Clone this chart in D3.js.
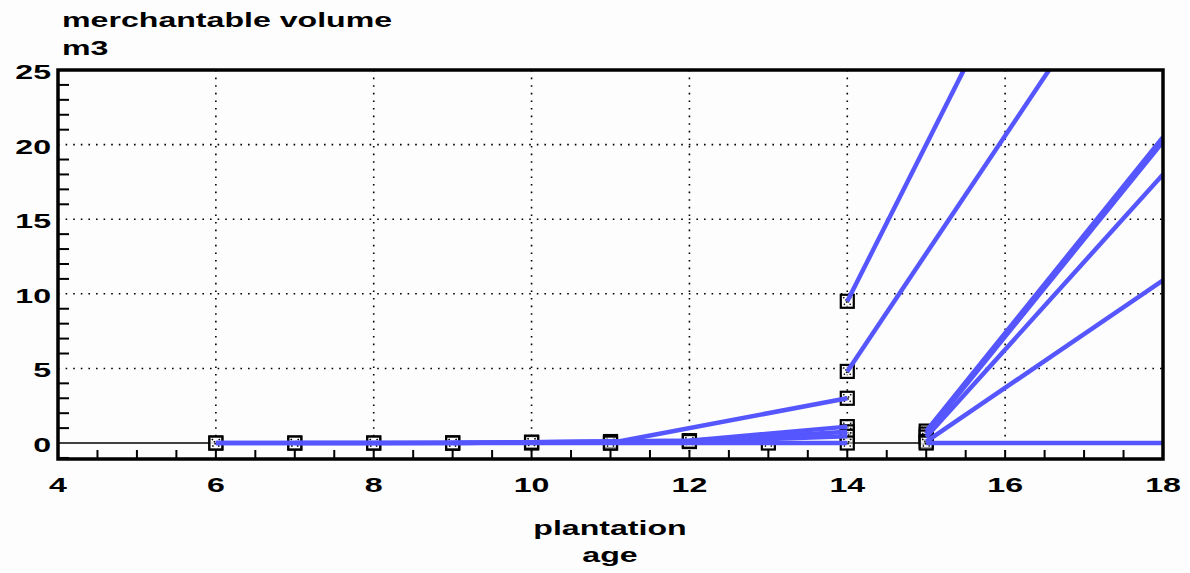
<!DOCTYPE html>
<html>
  <head>
    <title>merchantable volume</title>
    <script src="https://d3js.org/d3.v7.min.js"></script>
    <style>
      body { margin: 0; background: #fdfdfd; }
      text { font-family: "Liberation Sans", Arial, sans-serif; font-weight: bold; fill: #000; }
    </style>
  </head>
  <body>
    <div id="chart"></div>
    <script>
      // data: [plantation age, merchantable volume m3]
      var stand1 = [[6, 0], [7, 0], [8, 0], [9, 0], [10, 0], [11, 0], [14, 3.0]];
      var stand2 = [[6, 0], [8, 0], [10, 0.05], [12, 0.15], [14, 1.1]];
      var stand3 = [[7, 0], [9, 0], [11, 0.1], [12, 0.15], [14, 0.75]];
      var stand4 = [[9, 0], [10, 0.05], [12, 0.1], [14, 0.45]];
      var stand5 = [[11, 0], [13, 0], [14, 0]];
      var stand6 = [[14, 9.5], [18, 51.5]];
      var stand7 = [[14, 4.8], [18, 36.4]];
      var stand8 = [[15, 0.8], [18, 20.5]];
      var stand9 = [[15, 0.6], [18, 20.2]];
      var stand10 = [[15, 0.4], [18, 18.0]];
      var stand11 = [[15, 0.1], [18, 10.9]];
      var stand12 = [[15, 0], [18, 0]];
      var stands = [stand1, stand2, stand3, stand4, stand5, stand6, stand7, stand8, stand9, stand10, stand11, stand12];

      var lastMeasuredAge = 15; // later points are projections, no marker
      var xTicks = [4, 6, 8, 10, 12, 14, 16, 18];
      var yTicks = [0, 5, 10, 15, 20, 25];

      var width = 1190;
      var height = 573;
      var pLeft = 58, pRight = 1163, pTop = 70, pBottom = 459;
      var sx = 1.53; // the old screen font is stretched sideways

      var svg = d3.select("#chart")
        .append("svg")
        .attr("width", width)
        .attr("height", height);

      var x = d3.scaleLinear().domain([4, 18]).range([pLeft, pRight]);
      var y = d3.scaleLinear().domain([-1.07, 25]).range([pBottom, pTop]);

      function label(str, px, py, anchor) {
        svg.append("text")
          .attr("transform", "translate(" + px + "," + py + ") scale(" + sx + ",1)")
          .attr("text-anchor", anchor)
          .style("font-size", "21px")
          .text(str);
      }

      svg.append("clipPath").attr("id", "plotClip")
        .append("rect")
        .attr("x", pLeft).attr("y", pTop)
        .attr("width", pRight - pLeft).attr("height", pBottom - pTop);

      // dotted grid
      svg.selectAll(".vgrid")
        .data(xTicks.filter(function(d) { return d > 4 && d < 18; }))
        .enter().append("line")
        .attr("x1", function(d) { return x(d); })
        .attr("x2", function(d) { return x(d); })
        .attr("y1", pTop).attr("y2", pBottom)
        .style("stroke", "#000").style("stroke-width", 1.6)
        .style("stroke-dasharray", "1.6,6");

      svg.selectAll(".hgrid")
        .data(yTicks.filter(function(d) { return d > 0 && d < 25; }))
        .enter().append("line")
        .attr("x1", pLeft).attr("x2", pRight)
        .attr("y1", function(d) { return y(d); })
        .attr("y2", function(d) { return y(d); })
        .style("stroke", "#000").style("stroke-width", 1.6)
        .style("stroke-dasharray", "1.6,6");

      // zero line
      svg.append("line")
        .attr("x1", pLeft).attr("x2", pRight)
        .attr("y1", y(0)).attr("y2", y(0))
        .style("stroke", "#000").style("stroke-width", 1.5);

      // minor ticks
      svg.selectAll(".xminor")
        .data(d3.range(4.5, 18, 0.5))
        .enter().append("line")
        .attr("x1", function(d) { return x(d); })
        .attr("x2", function(d) { return x(d); })
        .attr("y1", pBottom).attr("y2", pBottom - 9)
        .style("stroke", "#000").style("stroke-width", 2);

      svg.selectAll(".yminor")
        .data(d3.range(-1, 25, 1).filter(function(d) { return d % 5 != 0; }))
        .enter().append("line")
        .attr("x1", pLeft).attr("x2", pLeft + 11)
        .attr("y1", function(d) { return y(d); })
        .attr("y2", function(d) { return y(d); })
        .style("stroke", "#000").style("stroke-width", 2);

      // markers (measured points)
      var pts = [];
      stands.forEach(function(s) {
        s.forEach(function(p) { if (p[0] <= lastMeasuredAge) pts.push(p); });
      });

      var mk = svg.append("g").selectAll(".marker")
        .data(pts)
        .enter().append("g")
        .attr("transform", function(d) { return "translate(" + x(d[0]) + "," + y(d[1]) + ")"; });

      mk.append("rect")
        .attr("x", -6.5).attr("y", -6.5)
        .attr("width", 13).attr("height", 13)
        .style("fill", "#fff").style("fill-opacity", 0.6)
        .style("stroke", "#000").style("stroke-width", 2.2);

      mk.append("path")
        .attr("d", "M-4,-4L4,4M4,-4L-4,4")
        .style("stroke", "#000").style("stroke-width", 1.4)
        .style("stroke-dasharray", "1.5,1.5");

      // stand lines
      var line = d3.line()
        .x(function(d) { return x(d[0]); })
        .y(function(d) { return y(d[1]); });

      svg.append("g")
        .attr("clip-path", "url(#plotClip)")
        .selectAll(".stand")
        .data(stands)
        .enter().append("path")
        .attr("d", line)
        .style("fill", "none")
        .style("stroke", "#5656ff")
        .style("stroke-width", 4.5)
        .style("stroke-linejoin", "round");

      // frame
      svg.append("rect")
        .attr("x", pLeft).attr("y", pTop)
        .attr("width", pRight - pLeft).attr("height", pBottom - pTop)
        .style("fill", "none")
        .style("stroke", "#000").style("stroke-width", 3.5);

      // tick labels
      xTicks.forEach(function(d) { label(d, x(d), 492, "middle"); });
      yTicks.forEach(function(d) { label(d, 51, y(d) + 9, "end"); });

      // titles
      label("merchantable volume", 62, 27, "start");
      label("m3", 62, 55, "start");
      label("plantation", 610, 535, "middle");
      label("age", 610, 562, "middle");
    </script>
  </body>
</html>
